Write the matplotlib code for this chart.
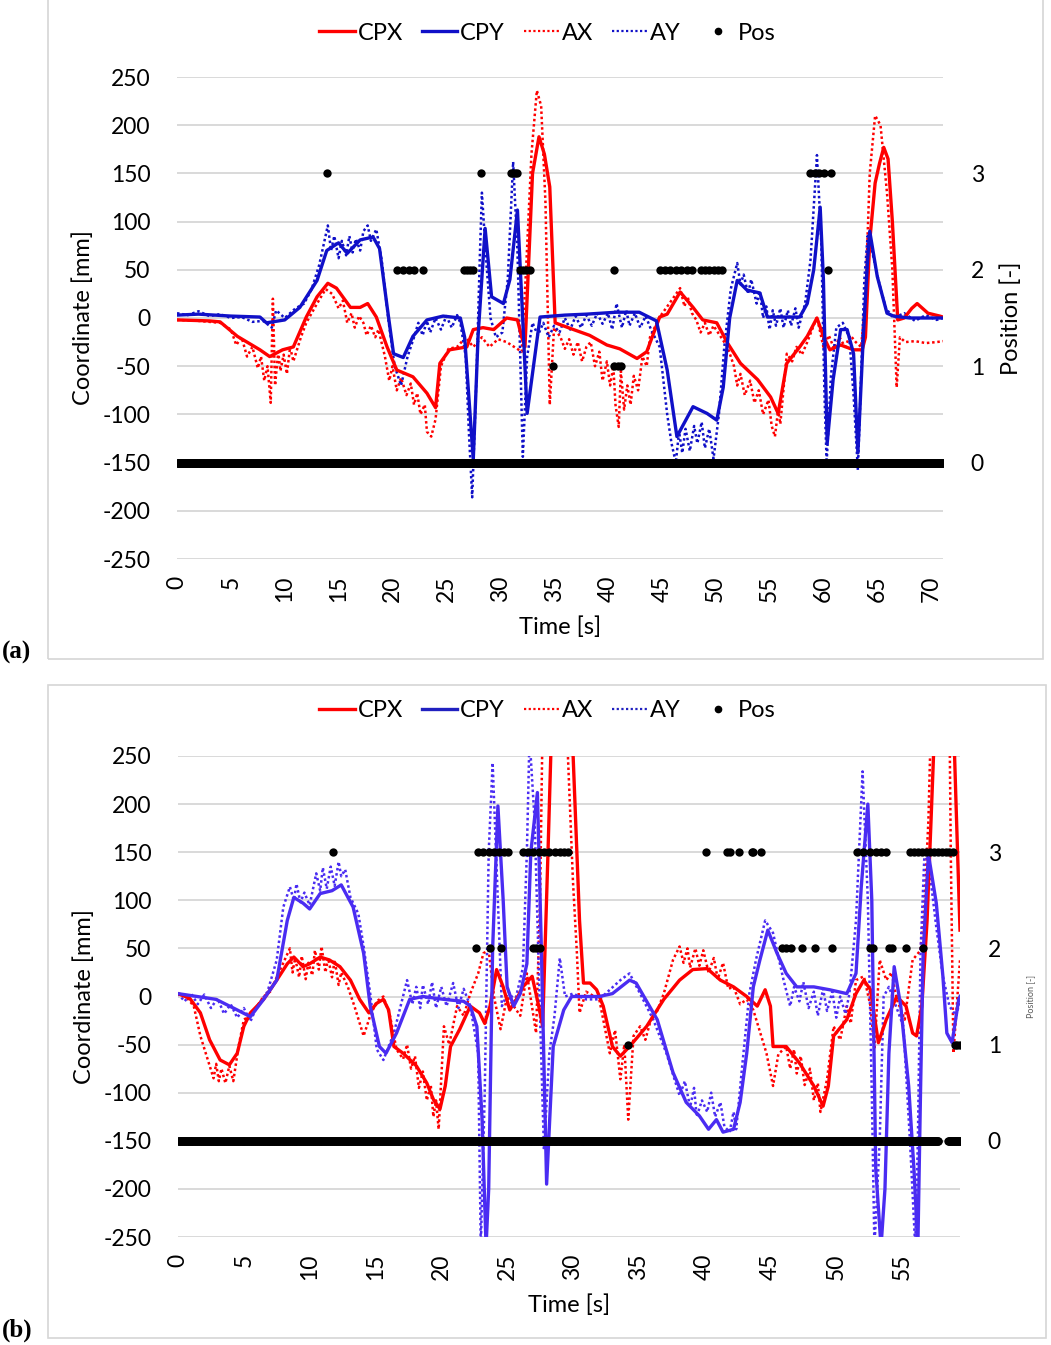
"""
plot_cop.py

Centre of pressure (CPX, CPY), acceleration based estimates (AX, AY)
and the detected position for two recordings, panels (a) and (b).
"""

import numpy as np
import matplotlib.pyplot as plt
from matplotlib.lines import Line2D
from matplotlib.patches import Rectangle

plt.rcParams['font.family'] = ['Lato', 'DejaVu Sans']
plt.rcParams['axes.unicode_minus'] = False

# series are stored as (time [s], value [mm]) pairs

# ---------------- recording (a) ----------------
a_cpx = [(0, -2), (3, -3), (4, -4), (5.6, -19), (7.7, -33), (8.6, -40), (9.8, -33), (10.8, -30),
         (12, 1), (13, 22), (14, 36), (14.8, 31), (16.1, 11), (17, 11), (17.7, 15), (18.5, 1),
         (19.5, -30), (20.4, -54), (21.9, -61), (23.2, -78), (24, -93), (24.4, -47), (25.3, -33),
         (26.9, -30), (27.5, -12), (28.4, -10), (29.4, -12), (30.6, 0), (31.6, -2), (32, -20),
         (32.3, -30), (33, 150), (33.6, 188), (34.1, 170), (34.6, 136), (35.1, -5), (36.8, -12),
         (38.3, -18), (39.9, -28), (41.1, -32), (42.7, -42), (43.6, -35), (44.8, 1), (45.5, 4),
         (46.7, 27), (47.9, 11), (48.8, -2), (50.1, -5), (51.1, -26), (52.3, -47), (53.9, -64),
         (55.1, -82), (55.8, -99), (56.6, -47), (57.8, -30), (58.5, -19), (59.4, 0), (60, -19),
         (60.6, -33), (61.6, -28), (62.8, -33), (63.6, -33), (63.9, -20), (64.3, 80), (64.8, 140),
         (65.2, 160), (65.6, 177), (66, 165), (66.4, 100), (66.9, -2), (67.5, 0), (68.2, 10),
         (68.7, 15), (69.7, 5), (70.8, 2), (71.1, 1)]

a_cpy = [(0, 3), (2, 4), (5, 2), (7.7, 1), (8.3, -5), (10, -2), (11.4, 11), (13, 39), (13.9, 70),
         (15, 78), (15.8, 67), (17, 81), (18.2, 84), (18.8, 72), (19.5, 12), (20.1, -37),
         (21, -41), (21.9, -19), (23.2, -2), (24.7, 2), (26.3, 0), (26.7, -20), (27.5, -147),
         (27.95, -18), (28.6, 93), (29.2, 22), (30.3, 15), (30.9, 40), (31.6, 112), (32, 20),
         (32.5, -99), (33.7, 1), (36, 3), (38, 4), (40.8, 6), (42.9, 6), (44.5, -3), (45.5, -54),
         (46.4, -123), (47.9, -92), (49.2, -99), (50.1, -106), (50.7, -72), (51.3, 0), (52, 39),
         (52.9, 29), (54.1, 26), (54.8, 1), (55.9, 1), (57.8, 1), (58.5, 15), (59.1, 50),
         (59.7, 115), (60, 40), (60.35, -130), (60.9, -64), (61.6, -12), (62.2, -12), (62.8, -37),
         (63.2, -140), (63.7, -20), (64.1, 60), (64.3, 90), (65, 43), (65.9, 5), (66.5, 2),
         (68, 0), (71.1, 0)]

a_ax = [(0, -2), (2, -3), (4, -5), (5, -12), (5.5, -28), (6, -20), (6.5, -40), (7, -30),
        (7.5, -52), (7.8, -40), (8.1, -65), (8.4, -50), (8.7, -88), (8.9, 20), (9.1, -70),
        (9.4, -35), (9.6, -55), (9.9, -38), (10.2, -58), (10.5, -30), (10.8, -45), (11.5, -20),
        (12, -5), (13, 15), (13.8, 30), (14.4, 25), (15, 10), (15.4, 18), (15.8, -5), (16.2, 5),
        (16.5, -10), (16.9, 2), (17.3, -5), (17.6, -18), (18, -8), (18.4, -20), (18.7, -12),
        (19.3, -40), (19.7, -65), (20, -50), (20.4, -75), (20.8, -62), (21.3, -80), (21.7, -68),
        (22, -90), (22.3, -78), (22.6, -100), (23, -90), (23.2, -118), (23.6, -123), (24, -105),
        (24.5, -50), (25.2, -32), (26, -30), (26.8, -20), (27.5, -30), (28.3, -20), (29, -30),
        (29.8, -22), (30.6, -25), (31.3, -30), (32, -35), (32.4, 50), (32.9, 170), (33.4, 236),
        (33.8, 220), (34.2, 120), (34.6, -90), (35, -10), (35.6, -20), (36, -32), (36.4, -22),
        (36.8, -38), (37.2, -25), (37.6, -45), (38, -30), (38.4, -25), (38.8, -50), (39.2, -35),
        (39.5, -65), (39.9, -45), (40.2, -70), (40.5, -50), (40.7, -90), (41, -113), (41.2, -55),
        (41.5, -95), (41.8, -70), (42.1, -90), (42.4, -60), (42.8, -75), (43.2, -40), (43.6, -50),
        (43.9, -20), (44.8, 1), (45.7, 15), (46.7, 31), (47.1, 12), (47.4, 22), (47.8, 5),
        (48.2, -2), (48.6, -15), (49, -5), (49.4, -18), (49.8, -8), (50.5, -20), (51.1, -30),
        (51.7, -50), (52.0, -70), (52.3, -58), (52.7, -80), (53.2, -65), (53.6, -88), (54.0, -75),
        (54.4, -100), (54.9, -85), (55.2, -112), (55.5, -123), (55.8, -95), (56, -110),
        (56.6, -37), (57.1, -45), (57.5, -30), (58, -38), (58.5, -25), (59.4, 1), (60, -30),
        (60.5, -18), (61, -32), (61.5, -20), (62, -30), (62.5, -18), (63, -25), (63.5, -30),
        (63.9, 20), (64.3, 150), (64.8, 210), (65.3, 200), (65.9, 130), (66.4, 50), (66.8, -72),
        (67.1, -20), (67.6, -25), (68.5, -24), (69.5, -26), (70.5, -25), (71.1, -24)]

a_ay = [(0, 5), (1, 3), (2, 7), (3, 2), (4, 4), (5, 0), (6, 1), (7, -4), (8, -3), (8.8, -10),
        (9.2, 8), (10, 0), (11, 10), (11.8, 15), (12.5, 30), (13.2, 55), (14, 96), (14.3, 70),
        (14.6, 85), (15, 62), (15.3, 80), (15.7, 65), (16, 85), (16.3, 68), (16.6, 82), (17, 70),
        (17.3, 90), (17.7, 96), (18, 80), (18.5, 92), (19, 60), (19.6, 0), (20.2, -50),
        (20.8, -70), (21.4, -40), (22, -20), (22.4, -5), (22.8, -18), (23.2, -3), (23.5, -15),
        (24, 0), (24.5, -12), (25, 2), (25.5, -10), (26, 3), (26.3, -5), (26.8, -40),
        (27.1, -120), (27.4, -186), (27.8, -60), (28.1, 60), (28.3, 130), (28.7, 60), (29.1, 0),
        (29.6, -20), (30.2, -15), (30.7, 40), (31.2, 162), (31.6, 70), (32.1, -144), (32.5, -40),
        (33, -5), (33.5, -18), (34, -5), (34.5, -20), (35, -8), (35.5, -15), (36, 0), (36.5, -12),
        (37, 2), (37.5, -10), (38, 3), (38.5, -8), (39, 5), (39.5, -6), (40, 5), (40.4, -12),
        (40.8, 15), (41.3, -10), (41.7, 8), (42, -8), (42.5, 5), (43, -10), (43.5, 2), (44, -12),
        (44.8, -30), (45.5, -100), (45.9, -130), (46.3, -150), (46.6, -118), (46.9, -140),
        (47.2, -115), (47.6, -138), (48.0, -112), (48.3, -130), (48.7, -108), (49, -135),
        (49.4, -115), (49.8, -146), (50.3, -100), (50.8, -30), (51.4, 30), (52, 57), (52.3, 35),
        (52.6, 45), (53, 25), (53.3, 40), (53.8, 15), (54.1, 28), (54.4, 0), (54.7, 12),
        (55, -12), (55.3, 8), (55.6, -8), (56, 10), (56.3, -10), (56.7, 8), (57, -8), (57.4, 10),
        (57.7, -10), (58.3, 15), (58.8, 60), (59.4, 169), (59.8, 80), (60.1, -80), (60.3, -150),
        (60.7, -60), (61.2, -10), (61.8, -5), (62.4, -20), (62.8, -80), (63.2, -158), (63.5, -60),
        (63.8, 40), (64.1, 85), (64.5, 70), (65.2, 35), (65.8, 10), (66.5, 0), (67.5, 5),
        (68.5, -3), (69.5, 3), (70.5, -2), (71.1, 0)]

a_pos0 = [(0, 71.2)]
a_pos1 = [34.9, 40.6, 40.9, 41.2]
a_pos2 = [20.4, 21.0, 21.5, 22.0, 22.8, 26.6, 26.9, 27.2, 27.5, 31.8, 32.1, 32.4, 32.8, 40.6,
          44.8, 45.3, 45.8, 46.3, 46.8, 47.3, 47.8, 48.6, 49.0, 49.4, 49.8, 50.2, 50.6, 60.4]
a_pos3 = [13.9, 28.2, 31.0, 31.2, 31.4, 31.6, 58.8, 59.2, 59.6, 60.1, 60.7]

# ---------------- recording (b) ----------------
b_cpx = [(0, 3), (0.9, -2), (1.7, -17), (2.4, -45), (3.2, -66), (3.9, -71), (4.5, -59), (5, -31),
         (5.5, -17), (6.5, -3), (7.5, 17), (8.3, 34), (8.8, 41), (9.5, 31), (10, 34), (10.8, 41),
         (11.5, 38), (12.3, 31), (13.1, 17), (13.8, -3), (14.5, -17), (15.1, -7), (15.6, -3),
         (16, -14), (16.4, -52), (17.1, -59), (18.1, -72), (18.9, -90), (19.4, -107), (19.9, -117),
         (20.3, -93), (20.7, -52), (21.4, -34), (22.2, -10), (22.9, -17), (23.3, -28), (23.7, -10),
         (24.2, 28), (24.7, 10), (25.2, -14), (25.7, -3), (26.2, 10), (26.9, 21), (27.4, -10),
         (27.7, -31), (28.1, 148), (28.4, 290), (29.9, 290), (30.5, 79), (30.8, 14), (31.3, 14),
         (31.8, 7), (32.3, -10), (33.0, -52), (33.6, -62), (34.3, -52), (35.6, -31), (36.9, -3),
         (38.1, 17), (39.1, 28), (40.2, 29), (41.2, 17), (42.2, 10), (43.2, 0), (44, -10),
         (44.6, 7), (45, -10), (45.2, -52), (46.2, -52), (47.2, -69), (48.3, -93), (49, -114),
         (49.4, -93), (49.8, -41), (50.8, -24), (51.5, 3), (52.1, 17), (52.6, 7), (53.2, -48),
         (53.8, -24), (54.6, 0), (55.3, -10), (55.8, -38), (56.1, -41), (56.5, -10), (56.9, 79),
         (57.2, 183), (57.5, 290), (58.9, 290), (59.1, 200), (59.4, 69)]

b_cpy = [(0, 3), (2.9, -3), (4.5, -14), (5.5, -21), (6.5, -3), (7.5, 17), (8.3, 79), (8.8, 103),
         (9.5, 97), (10, 91), (10.8, 107), (11.7, 110), (12.4, 116), (13.3, 93), (14.1, 45),
         (14.6, -10), (15.3, -52), (15.8, -59), (16.6, -38), (17.6, -3), (18.6, 0), (20.2, -3),
         (21.7, -5), (22.2, -10), (22.7, -31), (23.1, -128), (23.4, -260), (23.6, -200),
         (23.9, 50), (24.3, 198), (24.7, 100), (25, 10), (25.5, -10), (26, 3), (26.5, 34),
         (26.8, 150), (27.3, 212), (27.6, 50), (28.0, -195), (28.5, -52), (29.3, -14), (29.9, 0),
         (32, 0), (33, 3), (34.3, 17), (34.8, 14), (35.6, -5), (36.4, -24), (37.6, -79),
         (38.6, -110), (39.6, -124), (40.3, -138), (40.9, -128), (41.4, -141), (42.2, -138),
         (42.7, -110), (43.2, -59), (43.7, 10), (44.2, 38), (44.8, 69), (45.5, 45), (46.2, 24),
         (47, 10), (48.3, 10), (49.5, 7), (50.8, 3), (51.5, 24), (51.9, 114), (52.4, 200),
         (52.7, 100), (53.0, -179), (53.4, -260), (53.7, -200), (54, -59), (54.4, 31), (54.9, -10),
         (55.5, -93), (55.9, -179), (56.2, -260), (56.4, -100), (56.6, 45), (57, 148), (57.6, 97),
         (58.1, 21), (58.4, -38), (58.8, -48), (59.3, -3), (59.4, 0)]

b_ax = [(0, 3), (0.6, 0), (1.2, -10), (1.7, -41), (2.4, -72), (2.7, -85), (2.9, -70), (3.1, -88),
        (3.3, -75), (3.6, -90), (3.9, -72), (4.2, -88), (4.6, -52), (5, -24), (5.5, -20),
        (6, -10), (6.5, 0), (7, 5), (7.5, 20), (8, 35), (8.5, 50), (8.7, 25), (8.9, 40), (9.2, 20),
        (9.4, 42), (9.7, 18), (9.9, 35), (10.2, 22), (10.4, 48), (10.7, 28), (10.9, 52),
        (11.2, 25), (11.4, 40), (11.7, 20), (11.9, 38), (12.2, 12), (12.4, 25), (12.9, 10),
        (13.4, -10), (14.1, -41), (14.6, -20), (15.1, -5), (15.6, 0), (16.1, -20), (16.6, -55),
        (17.1, -65), (17.4, -50), (17.7, -75), (18, -62), (18.3, -95), (18.6, -78), (18.9, -108),
        (19.2, -92), (19.4, -125), (19.6, -108), (19.8, -138), (20.2, -31), (20.6, -50),
        (21.2, -10), (21.7, -20), (22.2, 3), (22.8, 24), (23.2, 45), (23.6, 48), (24, 0),
        (24.5, -34), (25, 0), (25.5, -10), (26, -20), (26.5, 24), (27.2, -38), (27.5, 100),
        (27.7, 290), (29.5, 290), (30, 120), (30.3, 45), (30.5, -17), (31, 5), (32, -3),
        (32.8, -59), (33.2, -35), (33.6, -86), (33.9, -50), (34.2, -128), (34.6, -41),
        (35.1, -31), (35.5, -45), (35.9, -25), (36.4, -15), (36.9, 3), (37.6, 38), (38.1, 52),
        (38.4, 35), (38.7, 50), (38.9, 30), (39.3, 50), (39.6, 32), (39.9, 48), (40.3, 25),
        (40.7, 40), (41, 18), (41.4, 35), (41.8, 8), (42.2, 10), (42.7, -8), (43.2, -3),
        (43.7, -14), (44.7, -59), (45.2, -93), (45.6, -60), (46.2, -52), (46.5, -75), (46.8, -55),
        (47, -80), (47.3, -62), (47.6, -92), (48, -75), (48.3, -108), (48.6, -90), (48.8, -120),
        (49.3, -86), (49.8, -31), (50.3, -45), (50.8, -10), (51.1, -28), (51.5, 17), (52.1, 21),
        (52.6, -10), (52.9, -55), (53.3, 38), (53.8, 17), (54.2, 25), (54.6, -3), (55.2, -24),
        (55.8, 38), (56.4, 48), (56.7, 97), (57, 183), (57.2, 290), (58.6, 290), (58.7, 150),
        (58.9, -59), (59.4, 38)]

b_ay = [(0, 3), (0.5, -5), (1, 3), (1.5, -8), (2, 2), (2.5, -12), (3, -2), (3.5, -18), (4, -8),
        (4.5, -22), (5, -12), (5.5, -26), (6, -10), (6.8, 5), (7.5, 38), (8, 93), (8.5, 114),
        (8.8, 100), (9, 117), (9.3, 98), (9.6, 108), (10, 95), (10.5, 128), (10.8, 110), (11, 134),
        (11.3, 112), (11.6, 135), (11.9, 115), (12.2, 140), (12.4, 125), (12.7, 132), (13.1, 103),
        (13.7, 86), (14.1, 52), (14.6, 3), (15.1, -55), (15.6, -66), (16.4, -38), (17.4, 17),
        (17.8, -8), (18.1, 10), (18.4, -12), (18.6, 12), (19, -8), (19.3, 15), (19.6, -12),
        (20, 10), (20.4, -10), (20.9, 14), (21.3, -12), (21.7, 8), (22.2, -10), (22.8, -59),
        (23.0, -260), (23.3, -100), (23.6, 150), (23.9, 243), (24.3, 100), (24.6, -10),
        (25.1, 5), (25.6, -5), (26.2, 30), (26.5, 150), (26.7, 270), (27.1, 180), (27.5, -20),
        (27.8, -160), (28.2, -60), (28.6, -20), (29, 40), (29.4, 0), (30, 3), (31, -3), (32, -3),
        (33.6, 17), (34.3, 24), (35.1, 3), (36.1, -24), (37.1, -59), (38.1, -103), (38.5, -88),
        (38.9, -115), (39.2, -95), (39.4, -125), (39.8, -108), (40.2, -120), (40.5, -100),
        (40.8, -125), (41.2, -110), (41.5, -135), (41.9, -141), (42.2, -120), (42.4, -138),
        (42.9, -66), (43.4, 3), (43.9, 38), (44.6, 79), (45.2, 66), (46, 17), (46.5, -10),
        (46.8, 10), (47.2, -5), (47.5, 15), (47.9, -12), (48.3, 5), (48.6, -20), (49, 8),
        (49.3, -15), (49.7, 5), (50, -22), (50.3, 0), (50.7, -18), (51, 3), (51.5, 79),
        (52.0, 234), (52.4, 100), (52.7, -100), (52.9, -260), (53.3, -150), (53.6, 0), (54, 10),
        (54.4, -5), (55.1, -31), (55.6, -150), (56.0, -260), (56.2, -150), (56.4, 45), (56.7, 148),
        (57, 141), (57.6, 72), (58.1, 21), (58.6, -10), (59.1, -20), (59.4, -5)]

b_pos0 = [(0, 57.8), (58.5, 59.5)]
b_pos1 = [34.2, 59.0, 59.2, 59.4]
b_pos2 = [22.6, 23.7, 24.5, 27.0, 27.2, 27.5, 45.9, 46.2, 46.6, 47.4, 48.4, 49.7, 52.6, 52.8,
          54.0, 54.2, 55.3, 56.6]
b_pos3 = [11.8, 22.8, 23.2, 23.6, 24.0, 24.4, 24.8, 25.1, 26.2, 26.6, 27.0, 27.4, 27.8, 28.2,
          28.6, 29.0, 29.3, 29.6, 40.1, 41.7, 41.9, 42.6, 43.6, 43.7, 44.3, 51.6, 52.0, 52.6,
          53.0, 53.4, 53.8, 55.6, 55.9, 56.2, 56.5, 56.8, 57.1, 57.4, 57.7, 58.0, 58.3, 58.6, 58.9]

RED = '#ff0000'
DOT = (0, (1, 1.1))


def draw_panel(rect, xmax, xticks, series, pos, blue, small_pos_label=False):
    ax = fig.add_axes(rect)
    cpx, cpy, axv, ay = [np.array(s, dtype=float) for s in series]

    ax.plot(axv[:, 0], axv[:, 1], color=RED, lw=1.8, ls=DOT, zorder=3)
    ax.plot(ay[:, 0], ay[:, 1], color=blue, lw=1.8, ls=DOT, zorder=3)
    ax.plot(cpx[:, 0], cpx[:, 1], color=RED, lw=2.4, zorder=4)
    ax.plot(cpy[:, 0], cpy[:, 1], color=blue, lw=2.4, zorder=4)

    ax.set_xlim(0, xmax)
    ax.set_ylim(-250, 250)
    ax.set_yticks(np.arange(-250, 251, 50))
    ax.set_xticks(xticks)
    ax.set_xticklabels([str(t) for t in xticks], rotation=90)
    ax.grid(axis='y', color='#d9d9d9', lw=1.4)
    ax.set_axisbelow(True)
    for s in ax.spines.values():
        s.set_visible(False)
    ax.tick_params(axis='y', length=0, pad=19, labelsize=16.5)
    ax.tick_params(axis='x', length=0, pad=12, labelsize=16.5)
    ax.set_xlabel('Time [s]', fontsize=17, labelpad=10)
    ax.set_ylabel('Coordinate [mm]', fontsize=17, labelpad=6)

    # position on a second scale: 0..3 sits on -150..150 mm
    ax2 = ax.twinx()
    ax2.set_ylim(-1, 4)
    ax2.set_yticks([0, 1, 2, 3])
    for s in ax2.spines.values():
        s.set_visible(False)
    ax2.tick_params(axis='y', length=0, pad=20, labelsize=16.5)
    if small_pos_label:
        ax2.set_ylabel('Position [-]', fontsize=6.5, color='#595959', labelpad=18)
    else:
        ax2.set_ylabel('Position [-]', fontsize=17, labelpad=12)

    p0, p1, p2, p3 = pos
    for t0, t1 in p0:
        tt = np.arange(t0, t1, 0.05)
        ax2.scatter(tt, np.zeros_like(tt), s=36, color='black', lw=0, zorder=5)
    for level, pts in ((1, p1), (2, p2), (3, p3)):
        ax2.scatter(pts, [level] * len(pts), s=36, color='black', lw=0, zorder=5)
    ax2.set_zorder(ax.get_zorder() + 1)
    ax2.patch.set_visible(False)
    return ax


def add_legend(y, blue):
    handles = [Line2D([], [], color=RED, lw=2.4),
               Line2D([], [], color=blue, lw=2.4),
               Line2D([], [], color=RED, lw=1.6, ls=DOT),
               Line2D([], [], color=blue, lw=1.6, ls=DOT),
               Line2D([], [], color='black', ls='none', marker='o', markersize=4.5)]
    fig.legend(handles, ['CPX', 'CPY', 'AX', 'AY', 'Pos'], loc='center',
               bbox_to_anchor=(0.521, y), ncol=5, frameon=False, fontsize=17,
               handlelength=1.5, handletextpad=0.12, columnspacing=0.8)


fig = plt.figure(figsize=(10.51, 13.45), dpi=100)
W, H = 1051, 1345

# panel frames
for x0, y0, x1, y1 in ((48, -5, 1043, 659), (48, 685, 1046, 1338)):
    fig.patches.append(Rectangle((x0 / W, 1 - y1 / H), (x1 - x0) / W, (y1 - y0) / H,
                                 transform=fig.transFigure, fill=False,
                                 edgecolor='#d6d6d6', lw=1.2))

draw_panel([177 / W, 1 - 559 / H, 766 / W, 482 / H], 71.1, list(range(0, 71, 5)),
           (a_cpx, a_cpy, a_ax, a_ay), (a_pos0, a_pos1, a_pos2, a_pos3), '#1010c8')
add_legend(1 - 33 / H, '#1010c8')

draw_panel([178 / W, 1 - 1237 / H, 782 / W, 481 / H], 59.4, list(range(0, 56, 5)),
           (b_cpx, b_cpy, b_ax, b_ay), (b_pos0, b_pos1, b_pos2, b_pos3), '#4a2cf2',
           small_pos_label=True)
add_legend(1 - 711 / H, '#2020c0')

fig.text(2 / W, 1 - 652 / H, '(a)', fontsize=18, fontweight='bold',
         family='Liberation Serif', va='center')
fig.text(2 / W, 1 - 1330 / H, '(b)', fontsize=18, fontweight='bold',
         family='Liberation Serif', va='center')

plt.savefig('out.png', dpi=100)
